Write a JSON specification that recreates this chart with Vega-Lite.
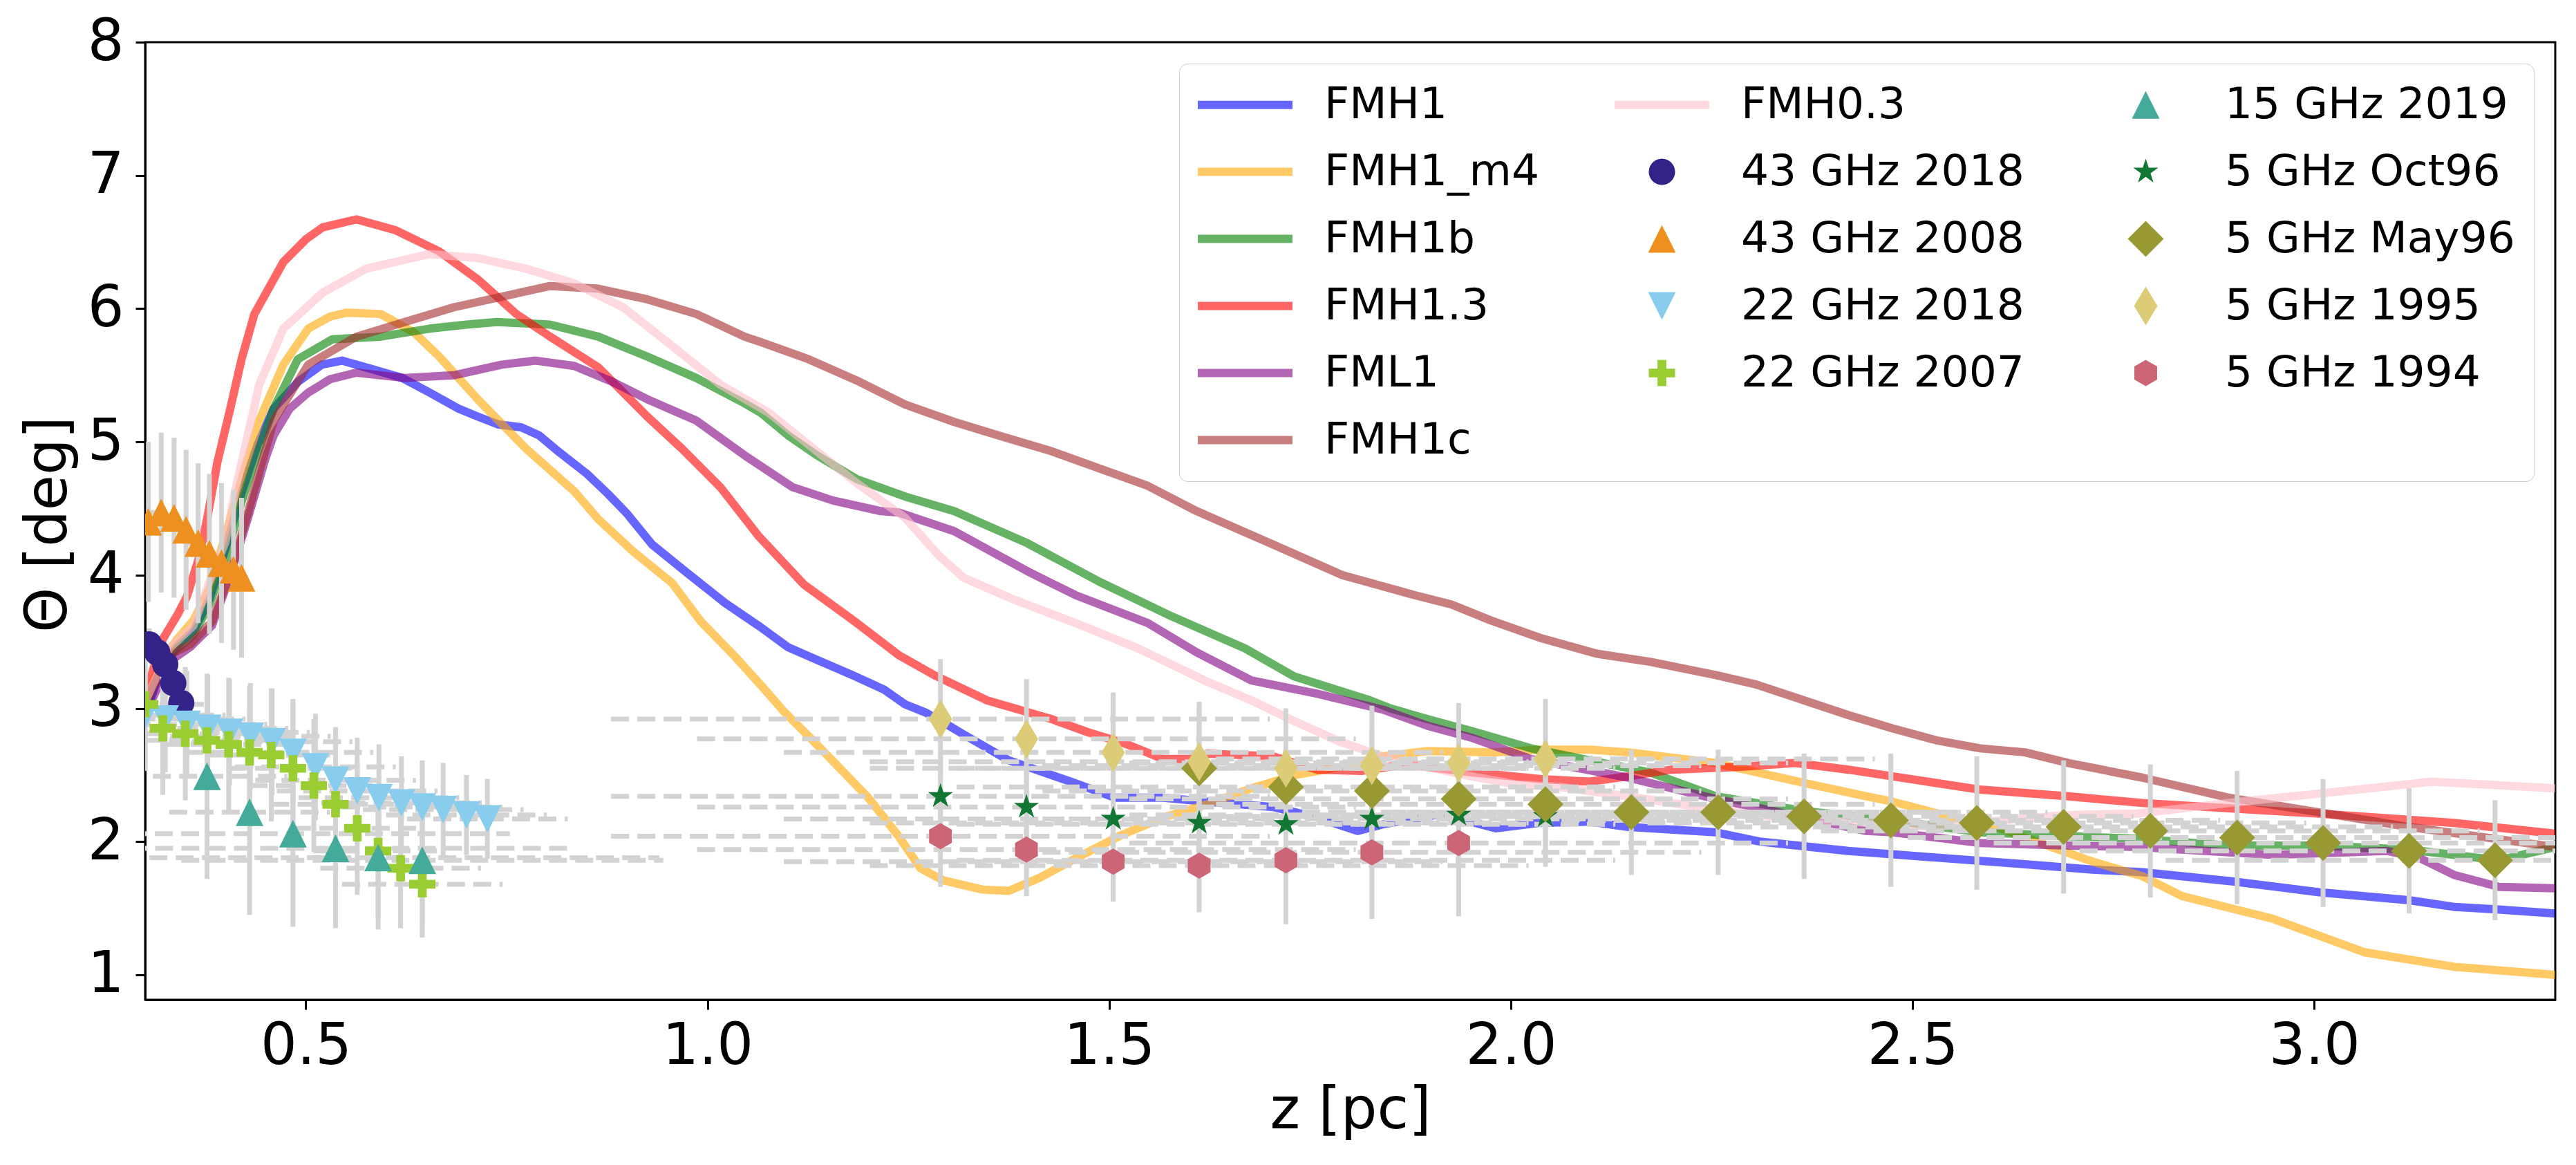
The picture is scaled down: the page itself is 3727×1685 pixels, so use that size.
{
  "$schema": "https://vega.github.io/schema/vega-lite/v6.json",
  "width": 3487,
  "height": 1385,
  "autosize": {"type": "none"},
  "padding": {"left": 210, "top": 61, "right": 30, "bottom": 239},
  "background": "white",
  "config": {
    "view": {"stroke": "black", "strokeWidth": 3},
    "font": "DejaVu Sans",
    "axis": {"grid": false}
  },
  "datasets": {
    "curves": [
      {"s":"FMH1","z":0.30,"t":2.95},{"s":"FMH1","z":0.32,"t":3.30},{"s":"FMH1","z":0.34,"t":3.47},{"s":"FMH1","z":0.36,"t":3.58},{"s":"FMH1","z":0.38,"t":3.82},{"s":"FMH1","z":0.40,"t":4.20},{"s":"FMH1","z":0.42,"t":4.62},{"s":"FMH1","z":0.44,"t":4.98},{"s":"FMH1","z":0.46,"t":5.25},{"s":"FMH1","z":0.49,"t":5.45},{"s":"FMH1","z":0.52,"t":5.58},{"s":"FMH1","z":0.545,"t":5.61},{"s":"FMH1","z":0.58,"t":5.55},{"s":"FMH1","z":0.62,"t":5.48},{"s":"FMH1","z":0.654,"t":5.37},{"s":"FMH1","z":0.69,"t":5.25},{"s":"FMH1","z":0.714,"t":5.19},{"s":"FMH1","z":0.74,"t":5.13},{"s":"FMH1","z":0.768,"t":5.11},{"s":"FMH1","z":0.79,"t":5.05},{"s":"FMH1","z":0.816,"t":4.92},{"s":"FMH1","z":0.85,"t":4.76},{"s":"FMH1","z":0.876,"t":4.61},{"s":"FMH1","z":0.90,"t":4.46},{"s":"FMH1","z":0.931,"t":4.23},{"s":"FMH1","z":0.974,"t":4.02},{"s":"FMH1","z":1.022,"t":3.79},{"s":"FMH1","z":1.066,"t":3.61},{"s":"FMH1","z":1.10,"t":3.46},{"s":"FMH1","z":1.138,"t":3.36},{"s":"FMH1","z":1.18,"t":3.25},{"s":"FMH1","z":1.22,"t":3.14},{"s":"FMH1","z":1.246,"t":3.03},{"s":"FMH1","z":1.271,"t":2.97},{"s":"FMH1","z":1.295,"t":2.89},{"s":"FMH1","z":1.32,"t":2.80},{"s":"FMH1","z":1.375,"t":2.61},{"s":"FMH1","z":1.452,"t":2.45},{"s":"FMH1","z":1.507,"t":2.33},{"s":"FMH1","z":1.567,"t":2.33},{"s":"FMH1","z":1.622,"t":2.30},{"s":"FMH1","z":1.704,"t":2.26},{"s":"FMH1","z":1.759,"t":2.18},{"s":"FMH1","z":1.809,"t":2.08},{"s":"FMH1","z":1.841,"t":2.13},{"s":"FMH1","z":1.907,"t":2.20},{"s":"FMH1","z":1.95,"t":2.15},{"s":"FMH1","z":1.981,"t":2.10},{"s":"FMH1","z":2.034,"t":2.14},{"s":"FMH1","z":2.098,"t":2.15},{"s":"FMH1","z":2.146,"t":2.11},{"s":"FMH1","z":2.255,"t":2.07},{"s":"FMH1","z":2.31,"t":2.00},{"s":"FMH1","z":2.42,"t":1.93},{"s":"FMH1","z":2.53,"t":1.88},{"s":"FMH1","z":2.64,"t":1.83},{"s":"FMH1","z":2.724,"t":1.79},{"s":"FMH1","z":2.786,"t":1.77},{"s":"FMH1","z":2.90,"t":1.70},{"s":"FMH1","z":3.006,"t":1.62},{"s":"FMH1","z":3.118,"t":1.56},{"s":"FMH1","z":3.174,"t":1.51},{"s":"FMH1","z":3.23,"t":1.49},{"s":"FMH1","z":3.30,"t":1.46},

      {"s":"FMH1_m4","z":0.30,"t":3.05},{"s":"FMH1_m4","z":0.32,"t":3.35},{"s":"FMH1_m4","z":0.34,"t":3.52},{"s":"FMH1_m4","z":0.36,"t":3.66},{"s":"FMH1_m4","z":0.38,"t":3.90},{"s":"FMH1_m4","z":0.40,"t":4.30},{"s":"FMH1_m4","z":0.42,"t":4.72},{"s":"FMH1_m4","z":0.442,"t":5.16},{"s":"FMH1_m4","z":0.472,"t":5.58},{"s":"FMH1_m4","z":0.503,"t":5.85},{"s":"FMH1_m4","z":0.53,"t":5.94},{"s":"FMH1_m4","z":0.551,"t":5.97},{"s":"FMH1_m4","z":0.593,"t":5.96},{"s":"FMH1_m4","z":0.635,"t":5.82},{"s":"FMH1_m4","z":0.666,"t":5.64},{"s":"FMH1_m4","z":0.714,"t":5.32},{"s":"FMH1_m4","z":0.774,"t":4.95},{"s":"FMH1_m4","z":0.834,"t":4.63},{"s":"FMH1_m4","z":0.864,"t":4.42},{"s":"FMH1_m4","z":0.907,"t":4.18},{"s":"FMH1_m4","z":0.956,"t":3.94},{"s":"FMH1_m4","z":0.992,"t":3.65},{"s":"FMH1_m4","z":1.034,"t":3.39},{"s":"FMH1_m4","z":1.07,"t":3.15},{"s":"FMH1_m4","z":1.096,"t":2.97},{"s":"FMH1_m4","z":1.126,"t":2.79},{"s":"FMH1_m4","z":1.16,"t":2.58},{"s":"FMH1_m4","z":1.20,"t":2.33},{"s":"FMH1_m4","z":1.238,"t":2.04},{"s":"FMH1_m4","z":1.265,"t":1.80},{"s":"FMH1_m4","z":1.293,"t":1.71},{"s":"FMH1_m4","z":1.342,"t":1.64},{"s":"FMH1_m4","z":1.375,"t":1.63},{"s":"FMH1_m4","z":1.414,"t":1.73},{"s":"FMH1_m4","z":1.457,"t":1.87},{"s":"FMH1_m4","z":1.512,"t":2.04},{"s":"FMH1_m4","z":1.567,"t":2.18},{"s":"FMH1_m4","z":1.622,"t":2.28},{"s":"FMH1_m4","z":1.677,"t":2.40},{"s":"FMH1_m4","z":1.732,"t":2.50},{"s":"FMH1_m4","z":1.787,"t":2.56},{"s":"FMH1_m4","z":1.841,"t":2.64},{"s":"FMH1_m4","z":1.896,"t":2.68},{"s":"FMH1_m4","z":1.979,"t":2.67},{"s":"FMH1_m4","z":2.036,"t":2.69},{"s":"FMH1_m4","z":2.098,"t":2.69},{"s":"FMH1_m4","z":2.146,"t":2.67},{"s":"FMH1_m4","z":2.255,"t":2.59},{"s":"FMH1_m4","z":2.365,"t":2.44},{"s":"FMH1_m4","z":2.442,"t":2.34},{"s":"FMH1_m4","z":2.475,"t":2.30},{"s":"FMH1_m4","z":2.557,"t":2.17},{"s":"FMH1_m4","z":2.61,"t":2.10},{"s":"FMH1_m4","z":2.64,"t":2.03},{"s":"FMH1_m4","z":2.724,"t":1.85},{"s":"FMH1_m4","z":2.786,"t":1.74},{"s":"FMH1_m4","z":2.836,"t":1.59},{"s":"FMH1_m4","z":2.949,"t":1.42},{"s":"FMH1_m4","z":3.062,"t":1.17},{"s":"FMH1_m4","z":3.174,"t":1.06},{"s":"FMH1_m4","z":3.30,"t":1.00},

      {"s":"FMH1b","z":0.30,"t":3.00},{"s":"FMH1b","z":0.32,"t":3.30},{"s":"FMH1b","z":0.34,"t":3.45},{"s":"FMH1b","z":0.36,"t":3.55},{"s":"FMH1b","z":0.38,"t":3.78},{"s":"FMH1b","z":0.40,"t":4.12},{"s":"FMH1b","z":0.42,"t":4.55},{"s":"FMH1b","z":0.44,"t":4.92},{"s":"FMH1b","z":0.46,"t":5.25},{"s":"FMH1b","z":0.49,"t":5.62},{"s":"FMH1b","z":0.533,"t":5.77},{"s":"FMH1b","z":0.593,"t":5.79},{"s":"FMH1b","z":0.654,"t":5.85},{"s":"FMH1b","z":0.70,"t":5.88},{"s":"FMH1b","z":0.738,"t":5.90},{"s":"FMH1b","z":0.804,"t":5.88},{"s":"FMH1b","z":0.864,"t":5.79},{"s":"FMH1b","z":0.925,"t":5.64},{"s":"FMH1b","z":0.986,"t":5.48},{"s":"FMH1b","z":1.046,"t":5.29},{"s":"FMH1b","z":1.066,"t":5.22},{"s":"FMH1b","z":1.10,"t":5.05},{"s":"FMH1b","z":1.136,"t":4.90},{"s":"FMH1b","z":1.186,"t":4.72},{"s":"FMH1b","z":1.246,"t":4.59},{"s":"FMH1b","z":1.307,"t":4.48},{"s":"FMH1b","z":1.398,"t":4.24},{"s":"FMH1b","z":1.488,"t":3.95},{"s":"FMH1b","z":1.578,"t":3.69},{"s":"FMH1b","z":1.669,"t":3.45},{"s":"FMH1b","z":1.73,"t":3.24},{"s":"FMH1b","z":1.825,"t":3.06},{"s":"FMH1b","z":1.85,"t":3.00},{"s":"FMH1b","z":1.896,"t":2.92},{"s":"FMH1b","z":1.951,"t":2.83},{"s":"FMH1b","z":2.025,"t":2.70},{"s":"FMH1b","z":2.09,"t":2.62},{"s":"FMH1b","z":2.173,"t":2.52},{"s":"FMH1b","z":2.255,"t":2.34},{"s":"FMH1b","z":2.365,"t":2.23},{"s":"FMH1b","z":2.475,"t":2.16},{"s":"FMH1b","z":2.584,"t":2.07},{"s":"FMH1b","z":2.694,"t":2.04},{"s":"FMH1b","z":2.786,"t":2.02},{"s":"FMH1b","z":2.893,"t":1.97},{"s":"FMH1b","z":3.006,"t":1.97},{"s":"FMH1b","z":3.118,"t":1.94},{"s":"FMH1b","z":3.23,"t":1.86},{"s":"FMH1b","z":3.30,"t":1.96},

      {"s":"FMH1.3","z":0.30,"t":3.10},{"s":"FMH1.3","z":0.322,"t":3.52},{"s":"FMH1.3","z":0.34,"t":3.70},{"s":"FMH1.3","z":0.352,"t":3.84},{"s":"FMH1.3","z":0.367,"t":4.13},{"s":"FMH1.3","z":0.378,"t":4.45},{"s":"FMH1.3","z":0.39,"t":4.85},{"s":"FMH1.3","z":0.406,"t":5.25},{"s":"FMH1.3","z":0.42,"t":5.62},{"s":"FMH1.3","z":0.436,"t":5.96},{"s":"FMH1.3","z":0.472,"t":6.35},{"s":"FMH1.3","z":0.50,"t":6.52},{"s":"FMH1.3","z":0.521,"t":6.61},{"s":"FMH1.3","z":0.563,"t":6.67},{"s":"FMH1.3","z":0.611,"t":6.59},{"s":"FMH1.3","z":0.666,"t":6.43},{"s":"FMH1.3","z":0.714,"t":6.22},{"s":"FMH1.3","z":0.762,"t":5.96},{"s":"FMH1.3","z":0.804,"t":5.79},{"s":"FMH1.3","z":0.864,"t":5.56},{"s":"FMH1.3","z":0.925,"t":5.19},{"s":"FMH1.3","z":0.968,"t":4.95},{"s":"FMH1.3","z":1.016,"t":4.66},{"s":"FMH1.3","z":1.064,"t":4.29},{"s":"FMH1.3","z":1.12,"t":3.93},{"s":"FMH1.3","z":1.186,"t":3.64},{"s":"FMH1.3","z":1.238,"t":3.40},{"s":"FMH1.3","z":1.282,"t":3.25},{"s":"FMH1.3","z":1.348,"t":3.06},{"s":"FMH1.3","z":1.428,"t":2.92},{"s":"FMH1.3","z":1.474,"t":2.82},{"s":"FMH1.3","z":1.518,"t":2.74},{"s":"FMH1.3","z":1.567,"t":2.62},{"s":"FMH1.3","z":1.60,"t":2.62},{"s":"FMH1.3","z":1.622,"t":2.66},{"s":"FMH1.3","z":1.704,"t":2.64},{"s":"FMH1.3","z":1.759,"t":2.54},{"s":"FMH1.3","z":1.814,"t":2.53},{"s":"FMH1.3","z":1.869,"t":2.58},{"s":"FMH1.3","z":1.951,"t":2.52},{"s":"FMH1.3","z":2.036,"t":2.47},{"s":"FMH1.3","z":2.098,"t":2.45},{"s":"FMH1.3","z":2.146,"t":2.49},{"s":"FMH1.3","z":2.20,"t":2.54},{"s":"FMH1.3","z":2.283,"t":2.56},{"s":"FMH1.3","z":2.354,"t":2.59},{"s":"FMH1.3","z":2.42,"t":2.54},{"s":"FMH1.3","z":2.475,"t":2.49},{"s":"FMH1.3","z":2.584,"t":2.39},{"s":"FMH1.3","z":2.694,"t":2.34},{"s":"FMH1.3","z":2.786,"t":2.29},{"s":"FMH1.3","z":2.893,"t":2.25},{"s":"FMH1.3","z":3.006,"t":2.21},{"s":"FMH1.3","z":3.174,"t":2.14},{"s":"FMH1.3","z":3.30,"t":2.06},

      {"s":"FML1","z":0.30,"t":2.95},{"s":"FML1","z":0.33,"t":3.35},{"s":"FML1","z":0.356,"t":3.46},{"s":"FML1","z":0.383,"t":3.62},{"s":"FML1","z":0.405,"t":3.98},{"s":"FML1","z":0.427,"t":4.41},{"s":"FML1","z":0.45,"t":4.88},{"s":"FML1","z":0.46,"t":5.05},{"s":"FML1","z":0.48,"t":5.25},{"s":"FML1","z":0.503,"t":5.37},{"s":"FML1","z":0.53,"t":5.47},{"s":"FML1","z":0.563,"t":5.52},{"s":"FML1","z":0.623,"t":5.48},{"s":"FML1","z":0.684,"t":5.50},{"s":"FML1","z":0.744,"t":5.58},{"s":"FML1","z":0.786,"t":5.61},{"s":"FML1","z":0.834,"t":5.57},{"s":"FML1","z":0.882,"t":5.45},{"s":"FML1","z":0.925,"t":5.32},{"s":"FML1","z":0.986,"t":5.16},{"s":"FML1","z":1.046,"t":4.90},{"s":"FML1","z":1.106,"t":4.66},{"s":"FML1","z":1.156,"t":4.56},{"s":"FML1","z":1.216,"t":4.48},{"s":"FML1","z":1.238,"t":4.47},{"s":"FML1","z":1.307,"t":4.33},{"s":"FML1","z":1.398,"t":4.03},{"s":"FML1","z":1.458,"t":3.85},{"s":"FML1","z":1.548,"t":3.64},{"s":"FML1","z":1.609,"t":3.42},{"s":"FML1","z":1.677,"t":3.21},{"s":"FML1","z":1.759,"t":3.11},{"s":"FML1","z":1.841,"t":2.99},{"s":"FML1","z":1.896,"t":2.87},{"s":"FML1","z":1.951,"t":2.78},{"s":"FML1","z":2.025,"t":2.62},{"s":"FML1","z":2.146,"t":2.48},{"s":"FML1","z":2.255,"t":2.32},{"s":"FML1","z":2.365,"t":2.18},{"s":"FML1","z":2.442,"t":2.08},{"s":"FML1","z":2.475,"t":2.07},{"s":"FML1","z":2.584,"t":1.99},{"s":"FML1","z":2.694,"t":1.97},{"s":"FML1","z":2.78,"t":1.96},{"s":"FML1","z":2.949,"t":1.90},{"s":"FML1","z":3.09,"t":1.93},{"s":"FML1","z":3.13,"t":1.88},{"s":"FML1","z":3.174,"t":1.75},{"s":"FML1","z":3.23,"t":1.66},{"s":"FML1","z":3.30,"t":1.65},

      {"s":"FMH1c","z":0.30,"t":3.05},{"s":"FMH1c","z":0.33,"t":3.40},{"s":"FMH1c","z":0.356,"t":3.48},{"s":"FMH1c","z":0.383,"t":3.65},{"s":"FMH1c","z":0.405,"t":4.00},{"s":"FMH1c","z":0.427,"t":4.45},{"s":"FMH1c","z":0.46,"t":5.16},{"s":"FMH1c","z":0.503,"t":5.58},{"s":"FMH1c","z":0.563,"t":5.79},{"s":"FMH1c","z":0.623,"t":5.90},{"s":"FMH1c","z":0.684,"t":6.01},{"s":"FMH1c","z":0.744,"t":6.09},{"s":"FMH1c","z":0.804,"t":6.17},{"s":"FMH1c","z":0.864,"t":6.15},{"s":"FMH1c","z":0.925,"t":6.07},{"s":"FMH1c","z":0.986,"t":5.96},{"s":"FMH1c","z":1.046,"t":5.79},{"s":"FMH1c","z":1.066,"t":5.75},{"s":"FMH1c","z":1.126,"t":5.62},{"s":"FMH1c","z":1.186,"t":5.46},{"s":"FMH1c","z":1.246,"t":5.28},{"s":"FMH1c","z":1.307,"t":5.15},{"s":"FMH1c","z":1.367,"t":5.04},{"s":"FMH1c","z":1.428,"t":4.93},{"s":"FMH1c","z":1.488,"t":4.80},{"s":"FMH1c","z":1.548,"t":4.67},{"s":"FMH1c","z":1.609,"t":4.48},{"s":"FMH1c","z":1.70,"t":4.24},{"s":"FMH1c","z":1.79,"t":4.00},{"s":"FMH1c","z":1.88,"t":3.85},{"s":"FMH1c","z":1.926,"t":3.78},{"s":"FMH1c","z":1.975,"t":3.66},{"s":"FMH1c","z":2.036,"t":3.53},{"s":"FMH1c","z":2.107,"t":3.41},{"s":"FMH1c","z":2.173,"t":3.35},{"s":"FMH1c","z":2.255,"t":3.25},{"s":"FMH1c","z":2.305,"t":3.18},{"s":"FMH1c","z":2.365,"t":3.06},{"s":"FMH1c","z":2.42,"t":2.95},{"s":"FMH1c","z":2.475,"t":2.85},{"s":"FMH1c","z":2.53,"t":2.76},{"s":"FMH1c","z":2.584,"t":2.70},{"s":"FMH1c","z":2.64,"t":2.67},{"s":"FMH1c","z":2.694,"t":2.59},{"s":"FMH1c","z":2.786,"t":2.48},{"s":"FMH1c","z":2.893,"t":2.33},{"s":"FMH1c","z":3.006,"t":2.22},{"s":"FMH1c","z":3.118,"t":2.11},{"s":"FMH1c","z":3.30,"t":1.96},

      {"s":"FMH0.3","z":0.30,"t":3.05},{"s":"FMH0.3","z":0.33,"t":3.45},{"s":"FMH0.3","z":0.36,"t":3.62},{"s":"FMH0.3","z":0.38,"t":3.95},{"s":"FMH0.3","z":0.40,"t":4.25},{"s":"FMH0.3","z":0.412,"t":4.63},{"s":"FMH0.3","z":0.442,"t":5.43},{"s":"FMH0.3","z":0.472,"t":5.85},{"s":"FMH0.3","z":0.521,"t":6.12},{"s":"FMH0.3","z":0.575,"t":6.30},{"s":"FMH0.3","z":0.654,"t":6.41},{"s":"FMH0.3","z":0.714,"t":6.38},{"s":"FMH0.3","z":0.774,"t":6.30},{"s":"FMH0.3","z":0.834,"t":6.19},{"s":"FMH0.3","z":0.895,"t":6.01},{"s":"FMH0.3","z":0.956,"t":5.72},{"s":"FMH0.3","z":1.016,"t":5.43},{"s":"FMH0.3","z":1.076,"t":5.22},{"s":"FMH0.3","z":1.136,"t":4.93},{"s":"FMH0.3","z":1.186,"t":4.69},{"s":"FMH0.3","z":1.246,"t":4.43},{"s":"FMH0.3","z":1.289,"t":4.14},{"s":"FMH0.3","z":1.319,"t":3.98},{"s":"FMH0.3","z":1.38,"t":3.82},{"s":"FMH0.3","z":1.458,"t":3.64},{"s":"FMH0.3","z":1.536,"t":3.45},{"s":"FMH0.3","z":1.567,"t":3.36},{"s":"FMH0.3","z":1.622,"t":3.20},{"s":"FMH0.3","z":1.677,"t":3.06},{"s":"FMH0.3","z":1.732,"t":2.90},{"s":"FMH0.3","z":1.787,"t":2.75},{"s":"FMH0.3","z":1.841,"t":2.64},{"s":"FMH0.3","z":1.896,"t":2.56},{"s":"FMH0.3","z":1.951,"t":2.49},{"s":"FMH0.3","z":2.006,"t":2.43},{"s":"FMH0.3","z":2.061,"t":2.41},{"s":"FMH0.3","z":2.146,"t":2.34},{"s":"FMH0.3","z":2.255,"t":2.24},{"s":"FMH0.3","z":2.365,"t":2.16},{"s":"FMH0.3","z":2.42,"t":2.15},{"s":"FMH0.3","z":2.53,"t":2.11},{"s":"FMH0.3","z":2.61,"t":2.16},{"s":"FMH0.3","z":2.694,"t":2.20},{"s":"FMH0.3","z":2.78,"t":2.21},{"s":"FMH0.3","z":2.893,"t":2.29},{"s":"FMH0.3","z":3.006,"t":2.36},{"s":"FMH0.3","z":3.147,"t":2.45},{"s":"FMH0.3","z":3.30,"t":2.40}
    ],
    "obs": [
      {"s":"43 GHz 2018","z":0.305,"t":3.48,"ex":0.01,"ey":0.12},{"s":"43 GHz 2018","z":0.315,"t":3.42,"ex":0.01,"ey":0.12},{"s":"43 GHz 2018","z":0.325,"t":3.33,"ex":0.01,"ey":0.12},{"s":"43 GHz 2018","z":0.335,"t":3.19,"ex":0.01,"ey":0.12},{"s":"43 GHz 2018","z":0.345,"t":3.04,"ex":0.01,"ey":0.12},

      {"s":"43 GHz 2008","z":0.304,"t":4.40,"ex":0.015,"ey":0.6},{"s":"43 GHz 2008","z":0.32,"t":4.47,"ex":0.015,"ey":0.6},{"s":"43 GHz 2008","z":0.336,"t":4.43,"ex":0.015,"ey":0.6},{"s":"43 GHz 2008","z":0.351,"t":4.34,"ex":0.015,"ey":0.6},{"s":"43 GHz 2008","z":0.366,"t":4.24,"ex":0.015,"ey":0.6},{"s":"43 GHz 2008","z":0.38,"t":4.16,"ex":0.015,"ey":0.6},{"s":"43 GHz 2008","z":0.395,"t":4.09,"ex":0.015,"ey":0.6},{"s":"43 GHz 2008","z":0.41,"t":4.04,"ex":0.015,"ey":0.6},{"s":"43 GHz 2008","z":0.42,"t":3.98,"ex":0.015,"ey":0.6},

      {"s":"22 GHz 2018","z":0.30,"t":2.95,"ex":0.1,"ey":0.4},{"s":"22 GHz 2018","z":0.325,"t":2.92,"ex":0.1,"ey":0.4},{"s":"22 GHz 2018","z":0.352,"t":2.88,"ex":0.1,"ey":0.4},{"s":"22 GHz 2018","z":0.378,"t":2.85,"ex":0.1,"ey":0.4},{"s":"22 GHz 2018","z":0.405,"t":2.82,"ex":0.1,"ey":0.4},{"s":"22 GHz 2018","z":0.431,"t":2.79,"ex":0.1,"ey":0.4},{"s":"22 GHz 2018","z":0.458,"t":2.75,"ex":0.1,"ey":0.4},{"s":"22 GHz 2018","z":0.484,"t":2.67,"ex":0.1,"ey":0.4},{"s":"22 GHz 2018","z":0.512,"t":2.56,"ex":0.1,"ey":0.4},{"s":"22 GHz 2018","z":0.537,"t":2.46,"ex":0.1,"ey":0.4},{"s":"22 GHz 2018","z":0.564,"t":2.38,"ex":0.1,"ey":0.4},{"s":"22 GHz 2018","z":0.591,"t":2.33,"ex":0.1,"ey":0.4},{"s":"22 GHz 2018","z":0.619,"t":2.29,"ex":0.1,"ey":0.35},{"s":"22 GHz 2018","z":0.645,"t":2.26,"ex":0.1,"ey":0.35},{"s":"22 GHz 2018","z":0.671,"t":2.24,"ex":0.1,"ey":0.35},{"s":"22 GHz 2018","z":0.70,"t":2.20,"ex":0.1,"ey":0.3},{"s":"22 GHz 2018","z":0.726,"t":2.17,"ex":0.1,"ey":0.3},

      {"s":"22 GHz 2007","z":0.30,"t":3.03,"ex":0.08,"ey":0.5},{"s":"22 GHz 2007","z":0.322,"t":2.85,"ex":0.08,"ey":0.5},{"s":"22 GHz 2007","z":0.35,"t":2.81,"ex":0.08,"ey":0.5},{"s":"22 GHz 2007","z":0.377,"t":2.76,"ex":0.08,"ey":0.5},{"s":"22 GHz 2007","z":0.404,"t":2.73,"ex":0.08,"ey":0.5},{"s":"22 GHz 2007","z":0.43,"t":2.67,"ex":0.08,"ey":0.5},{"s":"22 GHz 2007","z":0.457,"t":2.65,"ex":0.08,"ey":0.5},{"s":"22 GHz 2007","z":0.484,"t":2.55,"ex":0.08,"ey":0.5},{"s":"22 GHz 2007","z":0.51,"t":2.42,"ex":0.08,"ey":0.5},{"s":"22 GHz 2007","z":0.537,"t":2.28,"ex":0.08,"ey":0.5},{"s":"22 GHz 2007","z":0.564,"t":2.10,"ex":0.08,"ey":0.5},{"s":"22 GHz 2007","z":0.59,"t":1.93,"ex":0.08,"ey":0.5},{"s":"22 GHz 2007","z":0.618,"t":1.80,"ex":0.1,"ey":0.45},{"s":"22 GHz 2007","z":0.645,"t":1.68,"ex":0.1,"ey":0.4},

      {"s":"15 GHz 2019","z":0.377,"t":2.49,"ex":0.1,"ey":0.77},{"s":"15 GHz 2019","z":0.43,"t":2.22,"ex":0.1,"ey":0.77},{"s":"15 GHz 2019","z":0.484,"t":2.06,"ex":0.27,"ey":0.70},{"s":"15 GHz 2019","z":0.537,"t":1.95,"ex":0.29,"ey":0.60},{"s":"15 GHz 2019","z":0.59,"t":1.88,"ex":0.35,"ey":0.54},{"s":"15 GHz 2019","z":0.645,"t":1.86,"ex":0.3,"ey":0.48},

      {"s":"5 GHz Oct96","z":1.29,"t":2.34,"ex":0.41,"ey":0.3},{"s":"5 GHz Oct96","z":1.397,"t":2.26,"ex":0.41,"ey":0.3},{"s":"5 GHz Oct96","z":1.505,"t":2.17,"ex":0.41,"ey":0.3},{"s":"5 GHz Oct96","z":1.612,"t":2.14,"ex":0.41,"ey":0.3},{"s":"5 GHz Oct96","z":1.72,"t":2.13,"ex":0.41,"ey":0.3},{"s":"5 GHz Oct96","z":1.827,"t":2.17,"ex":0.41,"ey":0.3},{"s":"5 GHz Oct96","z":1.935,"t":2.20,"ex":0.41,"ey":0.3},{"s":"5 GHz Oct96","z":2.043,"t":2.19,"ex":0.41,"ey":0.3},

      {"s":"5 GHz May96","z":1.612,"t":2.55,"ex":0.41,"ey":0.47},{"s":"5 GHz May96","z":1.72,"t":2.41,"ex":0.41,"ey":0.47},{"s":"5 GHz May96","z":1.827,"t":2.38,"ex":0.41,"ey":0.47},{"s":"5 GHz May96","z":1.935,"t":2.32,"ex":0.41,"ey":0.47},{"s":"5 GHz May96","z":2.043,"t":2.28,"ex":0.41,"ey":0.47},{"s":"5 GHz May96","z":2.15,"t":2.22,"ex":0.41,"ey":0.47},{"s":"5 GHz May96","z":2.258,"t":2.22,"ex":0.41,"ey":0.47},{"s":"5 GHz May96","z":2.365,"t":2.19,"ex":0.41,"ey":0.47},{"s":"5 GHz May96","z":2.473,"t":2.16,"ex":0.41,"ey":0.5},{"s":"5 GHz May96","z":2.58,"t":2.14,"ex":0.41,"ey":0.5},{"s":"5 GHz May96","z":2.688,"t":2.11,"ex":0.41,"ey":0.5},{"s":"5 GHz May96","z":2.796,"t":2.08,"ex":0.41,"ey":0.5},{"s":"5 GHz May96","z":2.904,"t":2.03,"ex":0.41,"ey":0.5},{"s":"5 GHz May96","z":3.011,"t":1.99,"ex":0.41,"ey":0.48},{"s":"5 GHz May96","z":3.118,"t":1.93,"ex":0.41,"ey":0.47},{"s":"5 GHz May96","z":3.225,"t":1.86,"ex":0.41,"ey":0.45},

      {"s":"5 GHz 1995","z":1.29,"t":2.92,"ex":0.41,"ey":0.45},{"s":"5 GHz 1995","z":1.397,"t":2.77,"ex":0.41,"ey":0.45},{"s":"5 GHz 1995","z":1.505,"t":2.67,"ex":0.41,"ey":0.45},{"s":"5 GHz 1995","z":1.612,"t":2.60,"ex":0.41,"ey":0.45},{"s":"5 GHz 1995","z":1.72,"t":2.55,"ex":0.41,"ey":0.45},{"s":"5 GHz 1995","z":1.827,"t":2.57,"ex":0.41,"ey":0.45},{"s":"5 GHz 1995","z":1.935,"t":2.59,"ex":0.41,"ey":0.45},{"s":"5 GHz 1995","z":2.043,"t":2.62,"ex":0.41,"ey":0.45},

      {"s":"5 GHz 1994","z":1.29,"t":2.04,"ex":0.41,"ey":0.38},{"s":"5 GHz 1994","z":1.397,"t":1.94,"ex":0.41,"ey":0.35},{"s":"5 GHz 1994","z":1.505,"t":1.85,"ex":0.41,"ey":0.3},{"s":"5 GHz 1994","z":1.612,"t":1.82,"ex":0.41,"ey":0.35},{"s":"5 GHz 1994","z":1.72,"t":1.86,"ex":0.41,"ey":0.48},{"s":"5 GHz 1994","z":1.827,"t":1.92,"ex":0.41,"ey":0.5},{"s":"5 GHz 1994","z":1.935,"t":1.99,"ex":0.41,"ey":0.55}
    ]
  },
  "encoding": {
    "x": {
      "field": "z", "type": "quantitative",
      "scale": {"domain": [0.3, 3.3], "nice": false, "zero": false},
      "axis": {
        "title": "z [pc]",
        "values": [0.5, 1.0, 1.5, 2.0, 2.5, 3.0],
        "format": ".1f",
        "labelFont": "DejaVu Sans", "labelFontSize": 83, "labelColor": "black",
        "labelPadding": 12, "labelFlush": false, "labelOverlap": false,
        "tickSize": 14, "tickWidth": 3, "tickColor": "black",
        "domainColor": "black", "domainWidth": 3, "grid": false,
        "titleFont": "DejaVu Sans", "titleFontSize": 83, "titleFontWeight": "normal", "titleColor": "black",
        "titleBaseline": "alphabetic", "titleX": 1743.5, "titleY": 185
      }
    },
    "y": {
      "field": "t", "type": "quantitative",
      "scale": {"domain": [0.813, 8], "nice": false, "zero": false},
      "axis": {
        "title": "Θ [deg]",
        "values": [1, 2, 3, 4, 5, 6, 7, 8],
        "format": "d",
        "labelFont": "DejaVu Sans", "labelFontSize": 83, "labelColor": "black",
        "labelPadding": 17, "labelFlush": false, "labelOverlap": false,
        "tickSize": 14, "tickWidth": 3, "tickColor": "black",
        "domainColor": "black", "domainWidth": 3, "grid": false,
        "titleFont": "DejaVu Sans", "titleFontSize": 83, "titleFontWeight": "normal", "titleColor": "black",
        "titleBaseline": "alphabetic", "titleAngle": 270, "titleAlign": "center", "titleX": -115, "titleY": 697
      }
    }
  },
  "layer": [
    {
      "data": {"name": "curves"},
      "mark": {"type": "line", "strokeWidth": 12, "clip": true, "strokeJoin": "round"},
      "encoding": {
        "stroke": {
          "field": "s", "type": "nominal", "legend": null,
          "scale": {
            "domain": ["FMH1", "FMH1_m4", "FMH1b", "FMH1.3", "FML1", "FMH1c", "FMH0.3"],
            "range": ["rgba(0,0,255,0.6)", "rgba(255,165,0,0.6)", "rgba(0,128,0,0.6)", "rgba(255,0,0,0.6)", "rgba(128,0,128,0.6)", "rgba(165,42,42,0.6)", "rgba(255,192,203,0.6)"]
          }
        }
      }
    },
    {
      "data": {"name": "obs"},
      "mark": {"type": "errorbar", "color": "#d3d3d3", "thickness": 7, "clip": true},
      "encoding": {"yError": {"field": "ey"}}
    },
    {
      "data": {"name": "obs"},
      "mark": {"type": "errorbar", "color": "#d3d3d3", "thickness": 7, "clip": true, "rule": {"strokeDash": [26, 12]}},
      "encoding": {"xError": {"field": "ex"}}
    },
    {
      "data": {"name": "obs"},
      "mark": {"type": "point", "filled": true, "opacity": 1, "strokeWidth": 0, "size": 4225, "clip": true},
      "encoding": {
        "color": {
          "field": "s", "type": "nominal",
          "scale": {
            "domain": ["FMH1", "FMH0.3", "15 GHz 2019", "FMH1_m4", "43 GHz 2018", "5 GHz Oct96", "FMH1b", "43 GHz 2008", "5 GHz May96", "FMH1.3", "22 GHz 2018", "5 GHz 1995", "FML1", "22 GHz 2007", "5 GHz 1994", "FMH1c"],
            "range": ["rgba(0,0,255,0.6)", "rgba(255,192,203,0.6)", "#44aa99", "rgba(255,165,0,0.6)", "#332288", "#117733", "rgba(0,128,0,0.6)", "#ee9020", "#999933", "rgba(255,0,0,0.6)", "#88ccee", "#ddcc77", "rgba(128,0,128,0.6)", "#9acd32", "#cc6677", "rgba(165,42,42,0.6)"]
          },
          "legend": {
            "orient": "none", "legendX": 1496, "legendY": 31, "columns": 3, "direction": "horizontal", "title": null,
            "labelFont": "DejaVu Sans", "labelFontSize": 63, "labelColor": "black", "labelLimit": 3000,
            "symbolSize": 4225, "symbolStrokeWidth": 0, "symbolOffset": 36, "labelOffset": 82,
            "columnPadding": 107, "rowPadding": 32, "padding": 27,
            "fillColor": "rgba(255,255,255,0.8)", "strokeColor": "#cccccc", "cornerRadius": 12,
            "encode": {"legend": {"update": {"strokeWidth": {"value": 3}}}}
          }
        },
        "shape": {
          "field": "s", "type": "nominal",
          "scale": {
            "domain": ["FMH1", "FMH0.3", "15 GHz 2019", "FMH1_m4", "43 GHz 2018", "5 GHz Oct96", "FMH1b", "43 GHz 2008", "5 GHz May96", "FMH1.3", "22 GHz 2018", "5 GHz 1995", "FML1", "22 GHz 2007", "5 GHz 1994", "FMH1c"],
            "range": [
              "M-2.108,-0.185H2.108V0.185H-2.108Z",
              "M-2.108,-0.185H2.108V0.185H-2.108Z",
              "M0,-0.615L0.615,0.615L-0.615,0.615Z",
              "M-2.108,-0.185H2.108V0.185H-2.108Z",
              "M-0.585,0A0.585,0.585 0 1,0 0.585,0A0.585,0.585 0 1,0 -0.585,0Z",
              "M0,-0.585L0.1314,-0.1808L0.5564,-0.1808L0.2126,0.0691L0.3439,0.4733L0,0.2235L-0.3439,0.4733L-0.2126,0.0691L-0.5564,-0.1808L-0.1314,-0.1808Z",
              "M-2.108,-0.185H2.108V0.185H-2.108Z",
              "M0,-0.615L0.615,0.615L-0.615,0.615Z",
              "M0,-0.8L0.8,0L0,0.8L-0.8,0Z",
              "M-2.108,-0.185H2.108V0.185H-2.108Z",
              "M0,0.615L0.615,-0.615L-0.615,-0.615Z",
              "M0,-0.862L0.523,0L0,0.862L-0.523,0Z",
              "M-2.108,-0.185H2.108V0.185H-2.108Z",
              "M-0.195,-0.585L0.195,-0.585L0.195,-0.195L0.585,-0.195L0.585,0.195L0.195,0.195L0.195,0.585L-0.195,0.585L-0.195,0.195L-0.585,0.195L-0.585,-0.195L-0.195,-0.195Z",
              "M0,-0.585L0.507,-0.2925L0.507,0.2925L0,0.585L-0.507,0.2925L-0.507,-0.2925Z",
              "M-2.108,-0.185H2.108V0.185H-2.108Z"
            ]
          },
          "legend": {
            "orient": "none", "legendX": 1496, "legendY": 31, "columns": 3, "direction": "horizontal", "title": null,
            "labelFont": "DejaVu Sans", "labelFontSize": 63, "labelColor": "black", "labelLimit": 3000,
            "symbolSize": 4225, "symbolStrokeWidth": 0, "symbolOffset": 36, "labelOffset": 82,
            "columnPadding": 107, "rowPadding": 32, "padding": 27,
            "fillColor": "rgba(255,255,255,0.8)", "strokeColor": "#cccccc", "cornerRadius": 12,
            "encode": {"legend": {"update": {"strokeWidth": {"value": 3}}}}
          }
        }
      }
    }
  ]
}
